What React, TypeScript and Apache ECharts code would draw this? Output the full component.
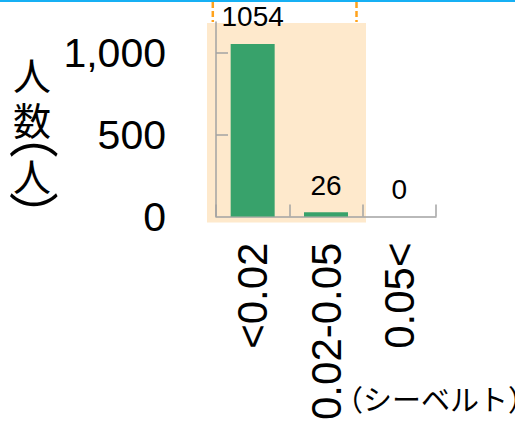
import React, { useEffect, useRef } from "react";
import * as echarts from "echarts";

const categories = ["<0.02", "0.02-0.05", "0.05<"];
const counts = [1054, 26, 0];
const yTickValues = [0, 500, 1000];
const yTickMarks = [500, 1000];
const yNameChars = ["人", "数", "（", "人", "）"];
const xName = "（シーベルト）";

const LATIN = "'Liberation Sans', Arial, sans-serif";
const CJK = "'Noto Sans CJK JP', sans-serif";
const AXIS = "#a3a3a3";

export default function App() {
  const ref = useRef<HTMLDivElement>(null);
  useEffect(() => {
    if (!ref.current) return;
    const chart = echarts.init(ref.current, null, { renderer: "svg" });
    // [x, y, rotation, fontSize]
    const yNamePos = [
      [32, 73, 0, 38],
      [32, 118, 0, 38],
      [36.5, 134, -Math.PI / 2, 50],
      [32, 174, 0, 38],
      [36.5, 216, -Math.PI / 2, 50],
    ];
    chart.setOption({
      animation: false,
      backgroundColor: "#ffffff",
      grid: { left: 216, right: 79, top: 22, bottom: 203, containLabel: false },
      xAxis: {
        type: "category",
        data: categories,
        axisLine: { show: true, lineStyle: { color: AXIS, width: 1.5 } },
        axisTick: {
          show: true,
          inside: true,
          length: 12,
          lineStyle: { color: AXIS, width: 1.5 },
        },
        axisLabel: {
          rotate: 90,
          interval: 0,
          margin: 26,
          fontSize: 42,
          color: "#000",
          fontFamily: LATIN,
        },
      },
      yAxis: {
        type: "value",
        min: 0,
        max: 1188,
        axisLine: { show: true, lineStyle: { color: AXIS, width: 1.5 } },
        axisTick: {
          show: true,
          inside: true,
          length: 12,
          customValues: yTickMarks,
          lineStyle: { color: AXIS, width: 1.5 },
        },
        axisLabel: {
          customValues: yTickValues,
          margin: 50,
          fontSize: 41,
          color: "#000",
          fontFamily: LATIN,
        },
        splitLine: { show: false },
      },
      series: [
        {
          type: "bar",
          data: counts,
          barWidth: 44,
          itemStyle: { color: "#38a26b" },
          label: {
            show: true,
            position: "top",
            distance: 13,
            fontSize: 28,
            color: "#000",
            fontFamily: LATIN,
          },
        },
      ],
      graphic: [
        {
          type: "rect",
          z: -10,
          shape: { x: 207, y: 23, width: 159, height: 199.5 },
          style: { fill: "#fee9cc" },
        },
        {
          type: "rect",
          shape: { x: 0, y: 0, width: 515, height: 2 },
          style: { fill: "#16b0f4" },
        },
        {
          type: "line",
          shape: { x1: 212.8, y1: 2, x2: 212.8, y2: 22 },
          style: { stroke: "#ffa21c", lineWidth: 2.5, lineDash: [6, 3] },
        },
        {
          type: "line",
          shape: { x1: 356.5, y1: 2, x2: 356.5, y2: 22 },
          style: { stroke: "#ffa21c", lineWidth: 2.5, lineDash: [6, 3] },
        },
        ...yNameChars.map((ch, i) => ({
          type: "text",
          x: yNamePos[i][0],
          y: yNamePos[i][1],
          rotation: yNamePos[i][2],
          style: {
            text: ch,
            fontSize: yNamePos[i][3],
            fontFamily: CJK,
            fill: "#000",
            align: "center",
            verticalAlign: "middle",
          },
        })),
        {
          type: "text",
          x: 334,
          y: 398,
          style: {
            text: xName,
            fontSize: 29,
            fontFamily: CJK,
            fill: "#000",
            align: "left",
            verticalAlign: "middle",
          },
        },
      ],
    });
    return () => chart.dispose();
  }, []);
  return (
    <div
      ref={ref}
      style={{ position: "fixed", left: 0, top: 0, width: 515, height: 423 }}
    />
  );
}
